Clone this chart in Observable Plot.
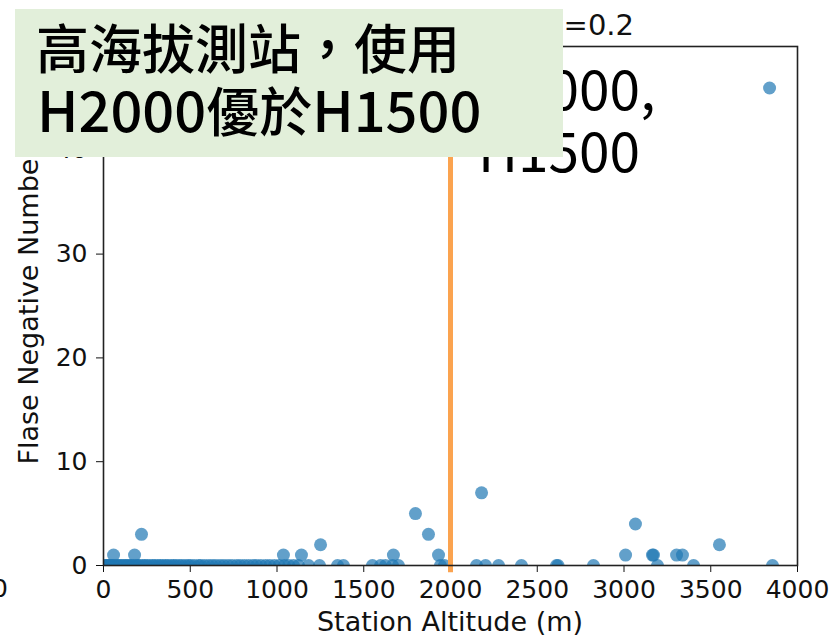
<!DOCTYPE html>
<html>
<head>
<meta charset="utf-8">
<script src="https://cdn.jsdelivr.net/npm/d3@7"></script>
<script src="https://cdn.jsdelivr.net/npm/@observablehq/plot@0.6"></script>
<style>
  html, body { margin: 0; padding: 0; background: #fff; }
  #chart { position: relative; width: 833px; height: 638px; overflow: hidden; }
</style>
</head>
<body>
<div id="chart"></div>
<script>
// Station altitude (m) and false-negative counts
const altitude = [
  8, 15, 22, 31, 37, 46, 53, 61, 74, 83, 95, 104, 118, 126, 139, 147, 162, 171, 188, 197,
  209, 226, 238, 251, 267, 284, 296, 313, 327, 342, 358, 371, 389, 404, 418, 436, 452, 471,
  489, 503, 524, 548, 561, 583, 606, 627, 648, 672, 694, 718, 741, 767, 788, 812, 836, 861,
  883, 907, 934, 958, 985, 1012, 1043, 1068, 1095,
  1124, 1182, 1245, 1349, 1383, 1550, 1597, 1625, 1666, 1700, 1942, 1965,
  2150, 2202, 2277, 2409, 2611, 2620, 2824, 3193, 3401, 3856,
  58, 179, 219, 1037, 1141, 1251, 1671, 1798, 1873, 1931, 2179,
  3009, 3066, 3164, 3170, 3303, 3337, 3550, 3839
];
const fnCount = [
  0, 0, 0, 0, 0, 0, 0, 0, 0, 0, 0, 0, 0, 0, 0, 0, 0, 0, 0, 0,
  0, 0, 0, 0, 0, 0, 0, 0, 0, 0, 0, 0, 0, 0, 0, 0, 0, 0,
  0, 0, 0, 0, 0, 0, 0, 0, 0, 0, 0, 0, 0, 0, 0, 0, 0, 0,
  0, 0, 0, 0, 0, 0, 0, 0, 0,
  0, 0, 0, 0, 0, 0, 0, 0, 0, 0, 0, 0,
  0, 0, 0, 0, 0, 0, 0, 0, 0, 0,
  1, 1, 3, 1, 1, 2, 1, 5, 3, 1, 7,
  1, 4, 1, 1, 1, 1, 2, 46
];
const xTicks = [0, 500, 1000, 1500, 2000, 2500, 3000, 3500, 4000];
const yTicks = [0, 10, 20, 30, 40];
const threshold = [2000];
const titleText = "FN count, threshold=0.2";
const xLabel = "Station Altitude (m)";
const yLabel = "Flase Negative Number";
const plotNote = ["H2000,", "H1500"];
const boxLine1 = "高海拔測站，使用";
const boxLine2 = [["H2000", "latin"], ["優於", "cjk"], ["H1500", "latin"]];

const data = altitude.map((a, i) => ({altitude: a, fn: fnCount[i]}));

const chart = Plot.plot({
  width: 833,
  height: 638,
  marginLeft: 103,
  marginRight: 36,
  marginTop: 46,
  marginBottom: 73,
  style: {fontFamily: "DejaVu Sans", fontSize: "25px", color: "#111", background: "white", overflow: "visible"},
  x: {domain: [0, 4000]},
  y: {domain: [0, 50]},
  marks: [
    Plot.axisX({ticks: xTicks, tickSize: 7, tickPadding: 8, label: null, tickFormat: d => String(d), fontSize: 25}),
    Plot.axisY({ticks: yTicks, tickSize: 7, tickPadding: 9, label: null, tickFormat: d => String(d), fontSize: 25}),
    Plot.dot(data, {x: "altitude", y: "fn", r: 6.5, fill: "#1f77b4", fillOpacity: 0.7, stroke: "none", clip: true}),
    Plot.ruleX(threshold, {y1: -0.7, y2: 50, stroke: "#fba34f", strokeWidth: 5}),
    Plot.frame({stroke: "#222", strokeWidth: 1.6})
  ]
});

document.getElementById("chart").appendChild(chart);

const svg = d3.select(chart);

// axis labels
svg.append("text")
  .attr("x", 450).attr("y", 631)
  .attr("text-anchor", "middle")
  .attr("font-family", "DejaVu Sans").attr("font-size", 27).attr("fill", "#111")
  .text(xLabel);
svg.append("text")
  .attr("transform", "translate(38,306) rotate(-90)")
  .attr("text-anchor", "middle")
  .attr("font-family", "DejaVu Sans").attr("font-size", 27).attr("fill", "#111")
  .text(yLabel);

// partial tick label from neighbouring panel at the left edge
svg.append("text")
  .attr("x", 8).attr("y", 597)
  .attr("text-anchor", "end")
  .attr("font-family", "DejaVu Sans").attr("font-size", 25).attr("fill", "#111")
  .text("0");

// title
svg.append("text")
  .attr("x", 634).attr("y", 35)
  .attr("text-anchor", "end")
  .attr("font-family", "DejaVu Sans").attr("font-size", 29).attr("fill", "#111")
  .text(titleText);

// in-plot annotation
plotNote.forEach((t, i) => {
  svg.append("text")
    .attr("x", 478).attr("y", 110 + i * 62)
    .attr("text-anchor", "start")
    .attr("font-family", "Noto Sans CJK TC").attr("font-size", 55).attr("fill", "#000")
    .text(t);
});

// overlay callout box
svg.append("rect")
  .attr("x", 15).attr("y", 9).attr("width", 548).attr("height", 148)
  .attr("fill", "#e2efda");
svg.append("text")
  .attr("x", 36).attr("y", 69)
  .attr("text-anchor", "start")
  .attr("font-family", "Noto Sans CJK TC").attr("font-weight", 500).attr("font-size", 53).attr("fill", "#000")
  .text(boxLine1);
const l2 = svg.append("text")
  .attr("x", 37).attr("y", 132)
  .attr("text-anchor", "start")
  .attr("font-family", "Noto Sans CJK TC").attr("font-weight", 500).attr("fill", "#000");
boxLine2.forEach(([t, kind]) => {
  l2.append("tspan").attr("font-size", kind === "latin" ? 56 : 53).text(t);
});
</script>
</body>
</html>
